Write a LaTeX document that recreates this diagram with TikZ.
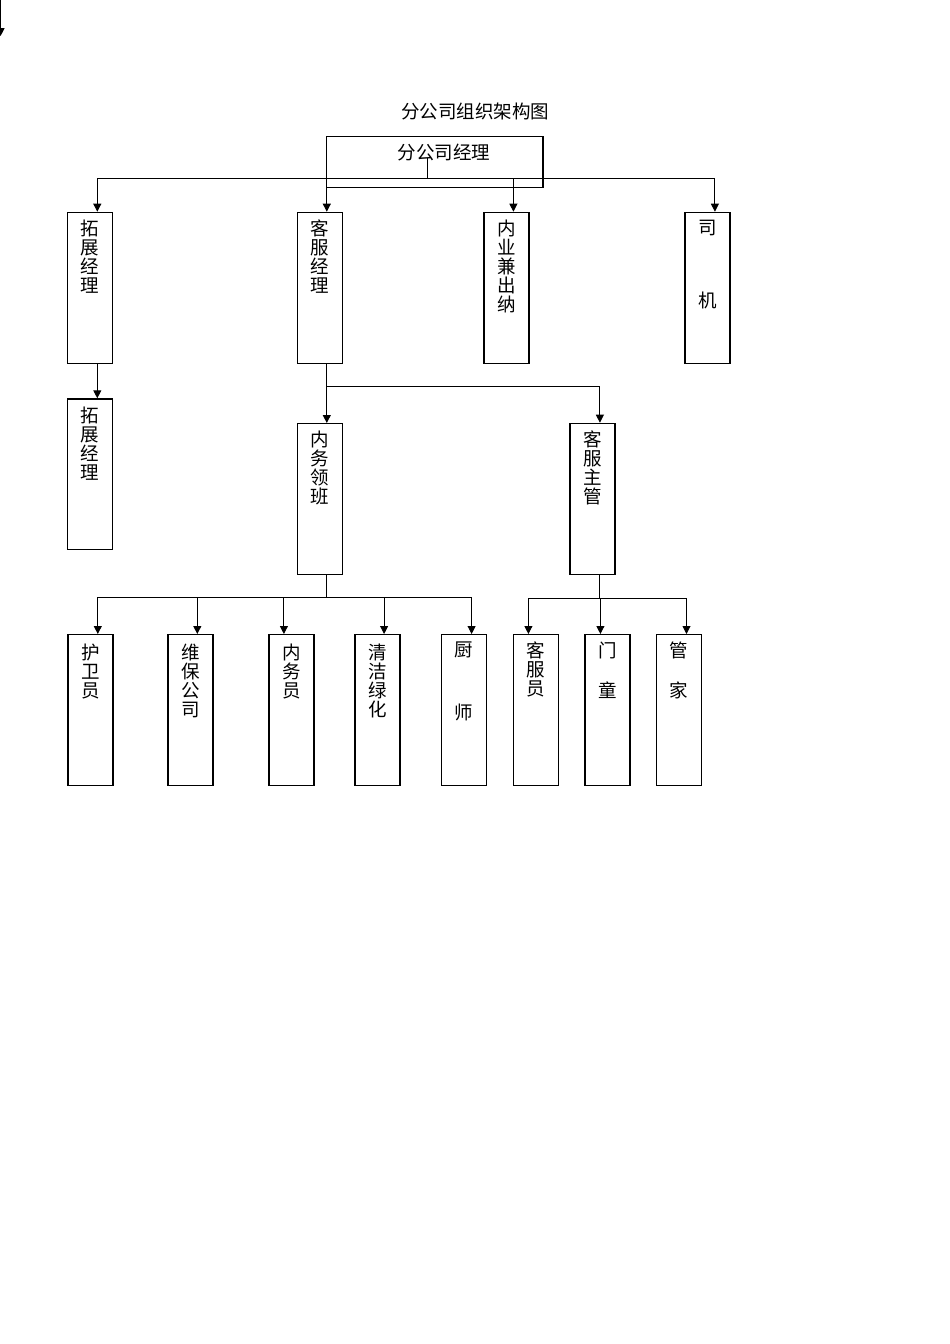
\documentclass[tikz,border=0pt]{standalone}
\usepackage{fontspec}
\newfontfamily\cjk{Noto Sans CJK SC}
\usetikzlibrary{arrows.meta}
\tikzstyle{post}=[draw, line width=1.2pt, inner sep=0pt, minimum width=45pt, minimum height=150.8pt, anchor=north west]
\tikzstyle{vtext}=[anchor=north, align=center, inner sep=0pt, yshift=-8pt, font=\cjk\fontsize{18.5}{19}\selectfont]
\tikzstyle{link}=[line width=0.9pt]
\tikzstyle{arr}=[link, -{Triangle[width=8pt,length=8pt]}]

\begin{document}
\begin{tikzpicture}[x=1pt, y=-1pt]
        \useasboundingbox (0,0) rectangle (950,1344);
        % stray arrow cut at the page edge
        \coordinate (stray-a) at (0.6,-20);
        \coordinate (stray-b) at (0.6,36);
        \draw[arr] (stray-a) -- (stray-b);
        \node[font=\cjk\fontsize{18.5}{20}\selectfont] (title) at (475,111) {分公司组织架构图};
        % head
        \node[draw, line width=1.2pt, minimum width=216.6pt, minimum height=51pt, inner sep=0pt, anchor=north west] (jl) at (325.7,135.7) {};
        \node[font=\cjk\fontsize{18.5}{20}\selectfont, inner sep=0pt] (jltxt) at (443.8,152.5) {分公司经理};
        \coordinate (jlstem) at (427,158);
        \coordinate (bus) at (427,178.3);
        % first row
        \node[post, label={[vtext]north:拓\\展\\经\\理}] (tz1) at (66.7,211.7) {};
        \node[post, label={[vtext]north:客\\服\\经\\理}] (kf) at (296.7,211.7) {};
        \node[post, label={[vtext]north:内\\业\\兼\\出\\纳}] (nyc) at (483.3,211.7) {};
        \node[post, label={[vtext]north:司\\[54pt]机}] (sj) at (684.3,211.7) {};
        \draw[link] (jlstem) -- (bus);
        \draw[arr] (bus) -| ([xshift=7.5pt]tz1.north);
        \draw[arr] (bus) -| ([xshift=7pt]kf.north);
        \draw[arr] (bus) -| ([xshift=7pt]nyc.north);
        \draw[arr] (bus) -| ([xshift=7.5pt]sj.north);
        % second row
        \node[post, label={[vtext]north:拓\\展\\经\\理}] (tz2) at (66.7,398.3) {};
        \node[post, label={[vtext]north:内\\务\\领\\班}] (nwlb) at (296.7,423) {};
        \node[post, label={[vtext]north:客\\服\\主\\管}] (kfzg) at (569.3,422.7) {};
        \coordinate (br1) at ([xshift=7pt]kf.south |- 0,386);
        \draw[arr] ([xshift=7.5pt]tz1.south) -- ([xshift=7.5pt]tz2.north);
        \draw[arr] ([xshift=7pt]kf.south) -- ([xshift=7pt]nwlb.north);
        \draw[arr] (br1) -| ([xshift=7.5pt]kfzg.north);
        % third row
        \node[post, label={[vtext, yshift=-2pt]north:护\\卫\\员}] (hwy) at (67.3,634) {};
        \node[post, label={[vtext, yshift=-2pt]north:维\\保\\公\\司}] (wbgs) at (167.3,634) {};
        \node[post, label={[vtext, yshift=-2pt]north:内\\务\\员}] (nwy) at (268.3,634) {};
        \node[post, label={[vtext, yshift=-2pt]north:清\\洁\\绿\\化}] (qjlh) at (354.3,634) {};
        \node[post, label={[vtext]north:厨\\[44pt]师}] (cs) at (440.7,634) {};
        \node[post, label={[vtext]north:客\\服\\员}] (kfy) at (512.7,634) {};
        \node[post, label={[vtext]north:门\\[21pt]童}] (mt) at (584.3,634) {};
        \node[post, label={[vtext]north:管\\[21pt]家}] (gj) at (656,634) {};
        \coordinate (bus2) at ([xshift=7pt]nwlb.south |- 0,597.3);
        \coordinate (bus3) at ([xshift=7.5pt]kfzg.south |- 0,598.3);
        \draw[link] ([xshift=7pt]nwlb.south) -- (bus2);
        \draw[arr] (bus2) -| ([xshift=7.4pt]hwy.north);
        \draw[arr] (bus2) -| ([xshift=6.9pt]wbgs.north);
        \draw[arr] (bus2) -| ([xshift=-7.5pt]nwy.north);
        \draw[arr] (bus2) -| ([xshift=6.7pt]qjlh.north);
        \draw[arr] (bus2) -| ([xshift=7.8pt]cs.north);
        \draw[link] ([xshift=7.5pt]kfzg.south) -- (bus3);
        \draw[arr] (bus3) -| ([xshift=-7.4pt]kfy.north);
        \draw[arr] (bus3) -| ([xshift=-7pt]mt.north);
        \draw[arr] (bus3) -| ([xshift=7.4pt]gj.north);
    \end{tikzpicture}
\end{document}
